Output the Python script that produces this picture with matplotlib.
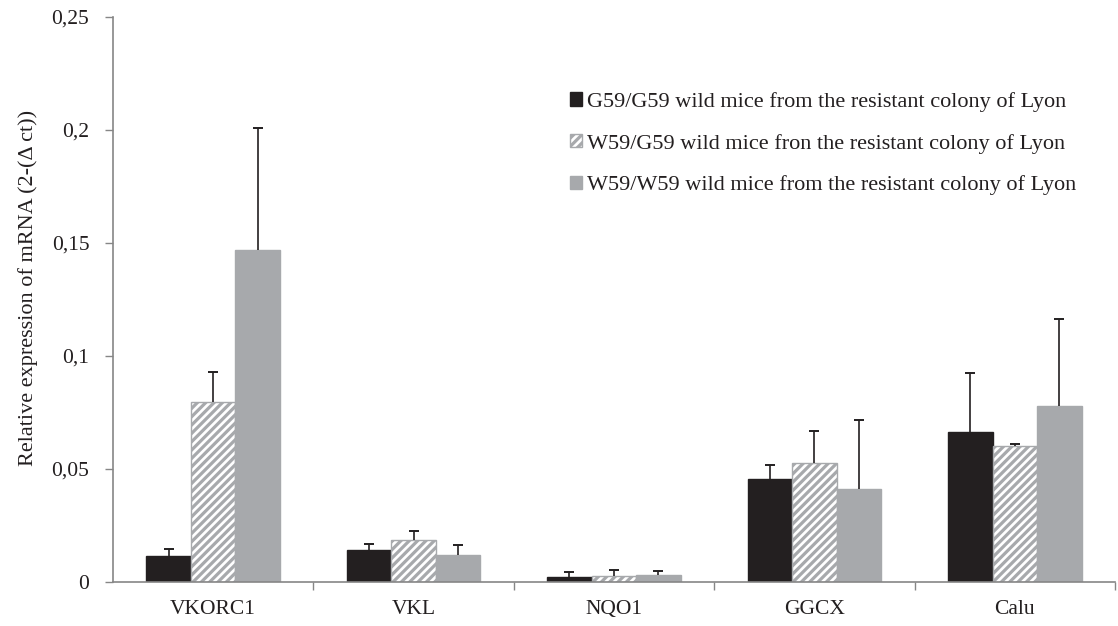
import numpy as np
import matplotlib
matplotlib.use("Agg")
import matplotlib.pyplot as plt
from matplotlib.patches import Patch
from matplotlib.ticker import FuncFormatter

categories = ["VKORC1", "VKL", "NQO1", "GGCX", "Calu"]
series_names = [
    "G59/G59 wild mice from the resistant colony of Lyon",
    "W59/G59 wild mice fron the resistant colony of Lyon",
    "W59/W59 wild mice from the resistant colony of Lyon",
]
g59_g59 = [0.0115, 0.014, 0.002, 0.0456, 0.0664]
g59_g59_top = [0.0146, 0.017, 0.0042, 0.0519, 0.0926]
w59_g59 = [0.0797, 0.0185, 0.0025, 0.0525, 0.0602]
w59_g59_top = [0.093, 0.0225, 0.0055, 0.067, 0.061]
w59_w59 = [0.147, 0.012, 0.003, 0.0413, 0.0779]
w59_w59_top = [0.201, 0.0165, 0.005, 0.0718, 0.1165]
yticks = [0, 0.05, 0.1, 0.15, 0.2, 0.25]

plt.rcParams['font.family'] = ['Liberation Serif', 'DejaVu Serif']
plt.rcParams['hatch.linewidth'] = 2.3

TXT = "#231f20"
AX = "#868686"

fig = plt.figure(figsize=(11.18, 6.26), dpi=100)
ax = fig.add_axes([0.101, 0.0703, 0.8963, 0.9027])

x = np.arange(len(categories))
w = 1 / 4.5
values = [g59_g59, w59_g59, w59_w59]
tops = [g59_g59_top, w59_g59_top, w59_w59_top]
styles = [
    dict(color="#231f20", edgecolor="#231f20"),
    dict(color="white", edgecolor="#a7a9ac", hatch="////"),
    dict(color="#a7a9ac", edgecolor="#a7a9ac"),
]
for i, (v, t, st) in enumerate(zip(values, tops, styles)):
    pos = x + (i - 1) * w
    ax.bar(pos, v, width=w, linewidth=1.0, zorder=2, **st)
    ax.vlines(pos, v, t, color=TXT, linewidth=1.2, zorder=3)
    ax.plot(pos, t, linestyle="none", marker="_", markersize=7,
            markeredgewidth=1.4, color=TXT, zorder=3)

ax.set_xlim(-0.5, len(categories) - 0.5)
ax.set_ylim(0, 0.25)
ax.set_yticks(yticks)
ax.yaxis.set_major_formatter(FuncFormatter(lambda v, p: ("%g" % v).replace(".", ",")))
ax.set_xticks(x)
ax.set_xticklabels(categories)
ax.tick_params(axis="x", length=0, pad=13, labelsize=15.5, labelcolor=TXT)
ax.set_xticks(np.arange(0.5, len(categories), 1), minor=True)
ax.tick_params(axis="x", which="minor", length=6, color=AX, width=1)
ax.tick_params(axis="y", length=6, color=AX, width=1, labelsize=15.5, pad=11,
               labelcolor=TXT)
for s in ["top", "right"]:
    ax.spines[s].set_visible(False)
for s in ["left", "bottom"]:
    ax.spines[s].set_color(AX)
    ax.spines[s].set_linewidth(1.2)

fig.text(0.025, 0.54, "Relative expression of mRNA (2-(\u0394 ct))", rotation=90,
         ha="center", va="center", fontsize=16, color=TXT)

handles = [Patch(facecolor=st["color"], edgecolor=st["edgecolor"], hatch=st.get("hatch"))
           for st in styles]
leg = ax.legend(handles, series_names, loc="upper left", bbox_to_anchor=(0.51, 0.853),
                bbox_transform=fig.transFigure, borderaxespad=0, borderpad=0,
                frameon=False, fontsize=16, handlelength=0.55, handleheight=0.55,
                handletextpad=0.2, labelspacing=0.98)
for t in leg.get_texts():
    t.set_color(TXT)

fig.savefig("out.png", dpi=100)
